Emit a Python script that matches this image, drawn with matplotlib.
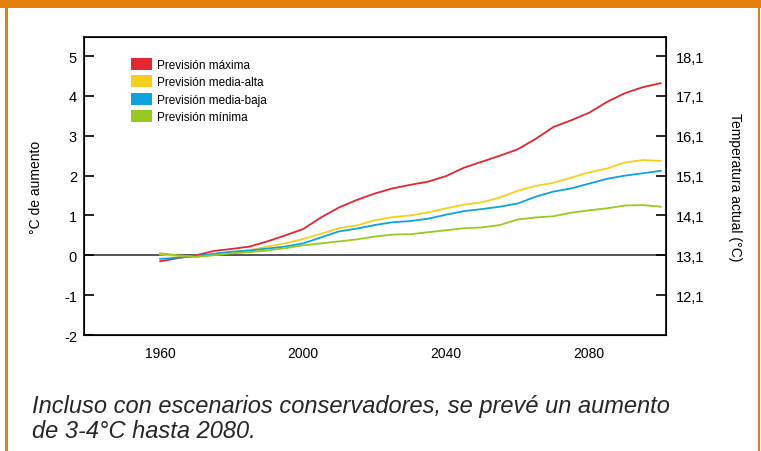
import matplotlib
matplotlib.use('Agg')
import matplotlib.pyplot as plt
from matplotlib.patches import Rectangle, Patch

plt.rcParams['font.family'] = ['Liberation Sans', 'DejaVu Sans']
plt.rcParams['axes.unicode_minus'] = False

#%% data
years = [1960, 1965, 1970, 1975, 1980, 1985, 1990, 1995, 2000, 2005, 2010, 2015,
         2020, 2025, 2030, 2035, 2040, 2045, 2050, 2055, 2060, 2065, 2070, 2075,
         2080, 2085, 2090, 2095, 2100]
prev_max = [-0.15, -0.07, 0.00, 0.11, 0.16, 0.22, 0.35, 0.50, 0.66, 0.95, 1.20, 1.39,
            1.55, 1.68, 1.77, 1.85, 1.99, 2.20, 2.35, 2.50, 2.66, 2.92, 3.22, 3.39,
            3.58, 3.85, 4.07, 4.22, 4.32]
prev_media_alta = [0.02, -0.02, -0.04, 0.02, 0.08, 0.13, 0.22, 0.30, 0.41, 0.54, 0.68, 0.75,
                   0.88, 0.96, 1.00, 1.08, 1.18, 1.27, 1.33, 1.45, 1.62, 1.74, 1.82, 1.95,
                   2.08, 2.18, 2.33, 2.39, 2.37]
prev_media_baja = [-0.09, -0.06, -0.02, 0.04, 0.09, 0.12, 0.17, 0.22, 0.30, 0.45, 0.60, 0.67,
                   0.76, 0.83, 0.86, 0.92, 1.02, 1.11, 1.16, 1.22, 1.30, 1.47, 1.60, 1.68,
                   1.80, 1.92, 2.00, 2.06, 2.12]
prev_min = [0.05, 0.00, -0.04, 0.00, 0.05, 0.08, 0.12, 0.18, 0.25, 0.30, 0.35, 0.40,
            0.47, 0.52, 0.53, 0.58, 0.63, 0.68, 0.70, 0.76, 0.90, 0.95, 0.98, 1.07,
            1.13, 1.18, 1.25, 1.26, 1.22]

series = [prev_max, prev_media_alta, prev_media_baja, prev_min]
labels = ['Previsión máxima', 'Previsión media-alta', 'Previsión media-baja', 'Previsión mínima']
colors = ['#e3262f', '#f4d01c', '#0ba3e0', '#98c91f']

xticks = [1960, 2000, 2040, 2080]
yticks = [-2, -1, 0, 1, 2, 3, 4, 5]
offset = 13.1   # right axis = left axis + 13.1

orange = '#e5800b'

#%% figure
fig = plt.figure(figsize=(7.61, 4.52), dpi=100)

# orange frame
fig.patches.append(Rectangle((0, 1 - 9 / 452), 1, 9 / 452, transform=fig.transFigure,
                             facecolor=orange, edgecolor='none'))
fig.patches.append(Rectangle((5 / 761, 0), 2.5 / 761, 1, transform=fig.transFigure,
                             facecolor=orange, edgecolor='none'))
fig.patches.append(Rectangle((757.5 / 761, 0), 2.5 / 761, 1, transform=fig.transFigure,
                             facecolor=orange, edgecolor='none'))

ax = fig.add_axes([84 / 761, 1 - 336 / 452, 582 / 761, 298 / 452])
ax.axhline(0, color='#555555', lw=1.4, zorder=1)
for s, lab, c in zip(series, labels, colors):
    ax.plot(years, s, color=c, lw=1.3, zorder=2)

ax.set_xlim(1938.7, 2101.5)
ax.set_ylim(-2, 5.48)
ax.set_xticks(xticks)
ax.set_yticks(yticks)
ax.tick_params(axis='x', length=0, pad=8, labelsize=10)
ax.tick_params(axis='y', direction='in', length=7, width=1.2, pad=5, labelsize=10.5)
for sp in ax.spines.values():
    sp.set_linewidth(1.2)
ax.set_ylabel('°C de aumento', fontsize=10, labelpad=15)

ax2 = ax.twinx()
ax2.set_ylim(-2 + offset, 5.48 + offset)
ax2.set_yticks([y + offset for y in yticks if y >= -1])
ax2.set_yticklabels([('%.1f' % (y + offset)).replace('.', ',') for y in yticks if y >= -1])
ax2.tick_params(axis='y', direction='in', length=7, width=1.2, pad=7, labelsize=10.5)
ax2.set_ylabel('Temperatura actual (°C)', fontsize=10, rotation=-90, labelpad=27)

handles = [Patch(facecolor=c, edgecolor='none') for c in colors]
ax.legend(handles, labels, loc='upper left', bbox_to_anchor=(0.072, 0.945), frameon=False,
          fontsize=8.5, handlelength=1.8, handleheight=1.15, handletextpad=0.4,
          labelspacing=0.38, borderaxespad=0)

fig.text(32 / 761, 1 - 419 / 452,
         'Incluso con escenarios conservadores, se prevé un aumento\nde 3-4°C hasta 2080.',
         family=['Liberation Sans Narrow', 'Liberation Sans'], style='italic',
         fontsize=17, va='center', ha='left', linespacing=1.1, color='#262626')

fig.savefig('out.png', dpi=100)
